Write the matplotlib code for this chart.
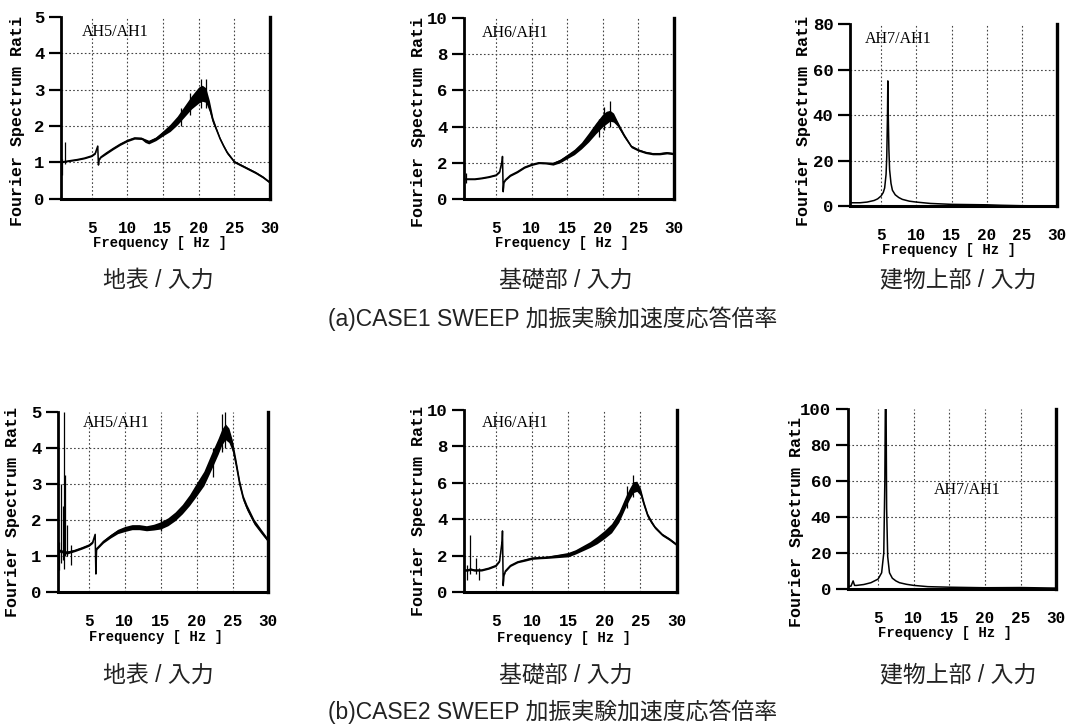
import matplotlib
matplotlib.use("Agg")
import matplotlib.pyplot as plt
import numpy as np

# ---------------- data ----------------
# (a) CASE1  --- AH5/AH1
a1_freq = [0.7, 1.0, 2.0, 3.0, 4.0, 5.0, 5.5, 5.85, 5.95, 6.05, 6.3,
           7.0, 8.0, 9.0, 10.0, 11.0, 12.0,
           12.5, 13.0, 14.0, 15.0, 16.0, 17.0, 18.0, 19.0,
           19.5, 20.0, 20.5, 21.0, 21.5, 22.0, 22.5, 23.0, 23.5, 24.0,
           25.0, 26.0, 27.0, 28.0, 29.0, 30.0]
a1_mid = [1.0, 1.02, 1.05, 1.08, 1.12, 1.18, 1.25, 1.45, 0.93, 1.08, 1.15,
          1.25, 1.38, 1.5, 1.6, 1.67, 1.66,
          1.6, 1.56, 1.65, 1.8, 1.95, 2.15, 2.4, 2.65,
          2.75, 2.85, 2.9, 2.85, 2.55, 2.15, 1.9, 1.65, 1.45, 1.27,
          1.02, 0.92, 0.82, 0.72, 0.6, 0.45]
a1_noise = [0.02, 0.02, 0.02, 0.02, 0.02, 0.02, 0.02, 0.02, 0.02, 0.02, 0.02,
            0.03, 0.03, 0.03, 0.03, 0.03, 0.03,
            0.05, 0.05, 0.05, 0.07, 0.1, 0.12, 0.15, 0.18,
            0.2, 0.22, 0.22, 0.2, 0.15, 0.08, 0.05, 0.04, 0.04, 0.04,
            0.03, 0.03, 0.03, 0.03, 0.03, 0.03]
a1_spike_f = [0.8, 1.2, 17.5, 18.8, 20.3, 21.0]
a1_spike_lo = [0.65, 0.95, 2.0, 2.3, 2.5, 2.5]
a1_spike_hi = [1.1, 1.55, 2.5, 2.9, 3.3, 3.3]

# (a) CASE1  --- AH6/AH1
a2_freq = [0.6, 1.0, 2.0, 3.0, 4.0, 5.0, 5.5, 5.85, 5.9, 6.0, 6.1, 6.3,
           7.0, 8.0, 9.0, 10.0, 11.0, 12.0, 13.0, 14.0, 15.0, 16.0, 17.0,
           18.0, 19.0, 20.0, 20.5, 21.0, 21.5, 22.0, 22.5, 23.0, 23.5, 24.0,
           25.0, 26.0, 27.0, 28.0, 29.0, 30.0]
a2_mid = [1.1, 1.1, 1.1, 1.15, 1.22, 1.32, 1.5, 2.1, 2.35, 0.4, 0.9, 1.05,
          1.3, 1.5, 1.75, 1.9, 2.0, 1.98, 1.95, 2.1, 2.35, 2.6, 2.95,
          3.4, 3.9, 4.35, 4.5, 4.6, 4.5, 4.2, 3.85, 3.5, 3.2, 2.9,
          2.7, 2.57, 2.5, 2.5, 2.55, 2.5]
a2_noise = [0.04, 0.04, 0.04, 0.04, 0.04, 0.04, 0.04, 0.04, 0.04, 0.04, 0.04, 0.04,
            0.05, 0.05, 0.05, 0.05, 0.05, 0.05, 0.08, 0.1, 0.12, 0.15, 0.18,
            0.25, 0.3, 0.35, 0.35, 0.3, 0.25, 0.15, 0.12, 0.1, 0.08, 0.07,
            0.06, 0.06, 0.06, 0.06, 0.06, 0.06]
a2_spike_f = [0.8, 19.5, 20.2, 21.0]
a2_spike_lo = [0.9, 3.4, 3.8, 4.0]
a2_spike_hi = [1.45, 4.4, 5.1, 5.4]

# (a) CASE1  --- AH7/AH1
a3_freq = [0.6, 1.0, 2.0, 3.0, 4.0, 4.5, 5.0, 5.3, 5.5, 5.7, 5.8, 5.9, 5.95,
           6.0, 6.1, 6.2, 6.4, 6.6, 7.0, 7.5, 8.0, 9.0, 10.0, 12.0, 15.0,
           20.0, 22.0, 25.0, 30.0]
a3_mid = [1.5, 1.5, 1.5, 1.8, 2.5, 3.2, 4.5, 6.0, 8.0, 14.0, 22.0, 40.0, 55.0,
          42.0, 25.0, 16.0, 10.0, 7.0, 5.0, 3.8, 3.0, 2.2, 1.8, 1.2, 0.8,
          0.6, 0.4, 0.2, 0.1]

# (b) CASE2  --- AH5/AH1
b1_freq = [0.7, 1.0, 1.5, 2.0, 3.0, 4.0, 5.0, 5.5, 5.85, 5.95, 6.05, 6.3,
           7.0, 8.0, 9.0, 10.0, 11.0, 12.0, 13.0, 14.0, 15.0, 16.0, 17.0,
           18.0, 19.0, 20.0, 21.0, 22.0, 23.0, 23.5, 24.0, 24.5, 25.0, 25.5,
           26.0, 26.5, 27.0, 28.0, 29.0, 30.0]
b1_mid = [1.1, 1.15, 1.1, 1.1, 1.15, 1.22, 1.3, 1.38, 1.6, 0.5, 1.2, 1.25,
          1.4, 1.55, 1.68, 1.75, 1.8, 1.8, 1.77, 1.8, 1.85, 1.95, 2.1,
          2.3, 2.55, 2.85, 3.15, 3.6, 4.05, 4.3, 4.45, 4.35, 4.05, 3.55,
          3.0, 2.6, 2.35, 1.95, 1.68, 1.42]
b1_noise = [0.04, 0.04, 0.04, 0.04, 0.03, 0.03, 0.03, 0.03, 0.03, 0.03, 0.03, 0.03,
            0.04, 0.05, 0.06, 0.07, 0.07, 0.07, 0.07, 0.08, 0.1, 0.11, 0.12,
            0.13, 0.15, 0.18, 0.2, 0.22, 0.22, 0.22, 0.22, 0.2, 0.15, 0.12,
            0.1, 0.08, 0.08, 0.07, 0.06, 0.05]
b1_spike_f = [0.85, 1.1, 1.35, 1.55, 1.6, 1.95, 2.45, 15.0, 22.3, 23.6, 24.0]
b1_spike_lo = [0.6, 0.8, 0.9, 0.65, 1.0, 1.0, 0.75, 1.7, 3.2, 3.9, 4.0]
b1_spike_hi = [1.4, 3.0, 2.4, 5.0, 3.25, 1.85, 1.3, 2.05, 4.0, 4.95, 5.0]

# (b) CASE2  --- AH6/AH1
b2_freq = [0.6, 1.0, 1.5, 2.0, 3.0, 4.0, 5.0, 5.5, 5.85, 5.9, 6.0, 6.1, 6.3,
           7.0, 8.0, 9.0, 10.0, 11.0, 12.0, 13.0, 14.0, 15.0, 16.0, 17.0,
           18.0, 19.0, 20.0, 21.0, 22.0, 23.0, 23.5, 24.0, 24.5, 25.0, 25.5,
           26.0, 26.5, 27.0, 28.0, 29.0, 30.0]
b2_mid = [1.2, 1.2, 1.25, 1.2, 1.2, 1.3, 1.45, 1.7, 2.8, 3.35, 0.35, 0.9, 1.15,
          1.45, 1.65, 1.75, 1.85, 1.88, 1.9, 1.95, 2.0, 2.05, 2.2, 2.4,
          2.6, 2.85, 3.15, 3.5, 4.1, 5.0, 5.4, 5.75, 5.8, 5.5, 4.8,
          4.2, 3.85, 3.55, 3.15, 2.9, 2.6]
b2_noise = [0.06, 0.06, 0.06, 0.06, 0.05, 0.05, 0.05, 0.05, 0.05, 0.05, 0.05, 0.05, 0.05,
            0.05, 0.05, 0.06, 0.06, 0.06, 0.06, 0.08, 0.1, 0.12, 0.12, 0.14,
            0.16, 0.2, 0.22, 0.25, 0.28, 0.3, 0.3, 0.3, 0.28, 0.2, 0.15,
            0.12, 0.1, 0.08, 0.07, 0.07, 0.07]
b2_spike_f = [1.0, 1.45, 2.2, 2.7, 23.2, 24.0]
b2_spike_lo = [0.65, 1.0, 1.0, 0.65, 4.6, 5.2]
b2_spike_hi = [1.5, 3.15, 1.85, 1.3, 5.8, 6.4]

# (b) CASE2  --- AH7/AH1
b3_freq = [0.8, 1.2, 1.5, 1.7, 2.0, 3.0, 4.0, 5.0, 5.5, 5.8, 5.95, 6.05, 6.1,
           6.2, 6.35, 6.6, 7.0, 7.5, 8.0, 9.0, 10.0, 12.0, 15.0, 20.0, 25.0, 30.0]
b3_mid = [1.5, 1.6, 4.5, 2.0, 2.0, 2.5, 3.5, 5.5, 9.0, 20.0, 60.0, 120.0, 120.0,
          45.0, 18.0, 9.0, 6.0, 4.5, 3.5, 2.6, 2.0, 1.3, 1.0, 0.7, 0.8, 0.5]

x_ticks = [5, 10, 15, 20, 25, 30]
y_ticks_5 = [0, 1, 2, 3, 4, 5]
y_ticks_10 = [0, 2, 4, 6, 8, 10]
y_ticks_80 = [0, 20, 40, 60, 80]
y_ticks_100 = [0, 20, 40, 60, 80, 100]

ratio_labels = ["AH5/AH1", "AH6/AH1", "AH7/AH1"]
captions = ["地表 / 入力", "基礎部 / 入力", "建物上部 / 入力"]
titles = ["(a)CASE1 SWEEP 加振実験加速度応答倍率", "(b)CASE2 SWEEP 加振実験加速度応答倍率"]
ylabel_text = "Fourier Spectrum Rati"
xlabel_text = "Frequency [ Hz ]"

# ---------------- drawing ----------------
MONO = "Liberation Mono"
SERIF = "Liberation Serif"
CJK = ["Liberation Sans", "Noto Sans CJK JP"]

fig = plt.figure(figsize=(10.68, 7.26), dpi=100)
fig.patch.set_facecolor("white")

panels = [
    dict(rect=[0.0571, 0.726, 0.1957, 0.251], xlim=(0.7, 30), ylim=(0, 5), yt=y_ticks_5,
         f=a1_freq, m=a1_mid, n=a1_noise, sf=a1_spike_f, slo=a1_spike_lo, shi=a1_spike_hi,
         lab=ratio_labels[0], lp=(0.10, 0.917), yl=(-0.206, 0.43), xl=(0.474, -0.242)),
    dict(rect=[0.4345, 0.726, 0.1966, 0.249], xlim=(0.5, 30), ylim=(0, 10), yt=y_ticks_10,
         f=a2_freq, m=a2_mid, n=a2_noise, sf=a2_spike_f, slo=a2_spike_lo, shi=a2_spike_hi,
         lab=ratio_labels[1], lp=(0.086, 0.917), yl=(-0.219, 0.425), xl=(0.467, -0.243)),
    dict(rect=[0.796, 0.716, 0.194, 0.251], xlim=(0.6, 30), ylim=(0, 80), yt=y_ticks_80,
         f=a3_freq, m=a3_mid, n=None, sf=None, slo=None, shi=None,
         lab=ratio_labels[2], lp=(0.072, 0.918), yl=(-0.227, 0.467), xl=(0.478, -0.242)),
    dict(rect=[0.0543, 0.1846, 0.197, 0.248], xlim=(0.67, 30), ylim=(0, 5), yt=y_ticks_5,
         f=b1_freq, m=b1_mid, n=b1_noise, sf=b1_spike_f, slo=b1_spike_lo, shi=b1_spike_hi,
         lab=ratio_labels[0], lp=(0.12, 0.94), yl=(-0.214, 0.444), xl=(0.467, -0.25)),
    dict(rect=[0.4345, 0.1846, 0.199, 0.251], xlim=(0.58, 30), ylim=(0, 10), yt=y_ticks_10,
         f=b2_freq, m=b2_mid, n=b2_noise, sf=b2_spike_f, slo=b2_spike_lo, shi=b2_spike_hi,
         lab=ratio_labels[1], lp=(0.085, 0.93), yl=(-0.216, 0.445), xl=(0.47, -0.253)),
    dict(rect=[0.794, 0.1887, 0.195, 0.248], xlim=(0.78, 30), ylim=(0, 100), yt=y_ticks_100,
         f=b3_freq, m=b3_mid, n=None, sf=None, slo=None, shi=None,
         lab=ratio_labels[2], lp=(0.41, 0.55), yl=(-0.245, 0.37), xl=(0.466, -0.244)),
]

for p in panels:
    ax = fig.add_axes(p["rect"])
    ax.set_xlim(*p["xlim"])
    ax.set_ylim(*p["ylim"])
    f = np.array(p["f"])
    m = np.array(p["m"])
    if p["n"] is not None:
        n = np.array(p["n"])
        ax.fill_between(f, m - n, m + n, color="black", lw=0, zorder=3)
    ax.plot(f, m, color="black", lw=1.1, zorder=4)
    if p["sf"] is not None:
        ax.vlines(p["sf"], p["slo"], p["shi"], color="black", lw=0.9, zorder=4)

    # dotted grid on interior ticks
    for xv in x_ticks:
        if p["xlim"][0] < xv < p["xlim"][1]:
            ax.axvline(xv, color="#444444", lw=0.8, ls=(0, (1.5, 2.0)), zorder=1)
    for yv in p["yt"]:
        if p["ylim"][0] < yv < p["ylim"][1]:
            ax.axhline(yv, color="#444444", lw=0.8, ls=(0, (1.5, 2.0)), zorder=1)

    ax.spines["top"].set_visible(False)
    ax.spines["left"].set_linewidth(2.0)
    ax.spines["bottom"].set_linewidth(2.2)
    ax.spines["right"].set_linewidth(2.4)

    ax.set_xticks(x_ticks)
    ax.set_xticklabels([str(v) for v in x_ticks])
    ax.set_yticks(p["yt"])
    ax.set_yticklabels([str(v) for v in p["yt"]])
    ax.tick_params(axis="x", length=0, pad=16)
    ax.tick_params(axis="y", length=9, width=1.6, direction="out", pad=3)
    for lbl in ax.get_xticklabels():
        lbl.set_fontfamily(MONO)
        lbl.set_fontweight("bold")
        lbl.set_fontsize(11.5)
    for lbl in ax.get_yticklabels():
        lbl.set_fontfamily(MONO)
        lbl.set_fontweight("bold")
        lbl.set_fontsize(12.5)

    ax.set_ylabel(ylabel_text, fontfamily=MONO, fontweight="bold", fontsize=12)
    ax.yaxis.set_label_coords(*p["yl"])
    ax.yaxis.label.set_va("center")
    ax.set_xlabel(xlabel_text, fontfamily=MONO, fontweight="bold", fontsize=10)
    ax.xaxis.set_label_coords(*p["xl"])
    ax.xaxis.label.set_va("center")

    ax.text(p["lp"][0], p["lp"][1], p["lab"], transform=ax.transAxes,
            fontfamily=SERIF, fontsize=11.5, ha="left", va="center", zorder=5)

# captions and titles (pixel positions converted to figure fractions)
W, H = 1068.0, 726.0
cap_x = [158, 566, 958]
for row, (cy, ty) in enumerate([(280, 319), (675, 712)]):
    for cx, txt in zip(cap_x, captions):
        fig.text(cx / W, 1 - cy / H, txt, family=CJK, fontsize=16.5,
                 color="#222222", ha="center", va="center")
    fig.text(553 / W, 1 - ty / H, titles[row], family=CJK, fontsize=16.5,
             color="#222222", ha="center", va="center")

fig.savefig("out.png", dpi=100, facecolor="white")
